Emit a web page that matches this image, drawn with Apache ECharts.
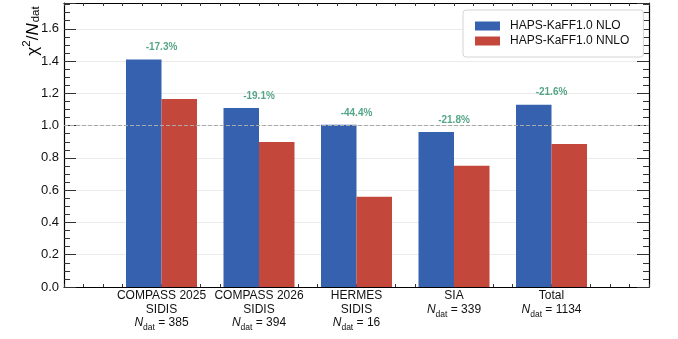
<!DOCTYPE html>
<html>
<head>
<meta charset="utf-8">
<script src="https://cdn.jsdelivr.net/npm/echarts@6/dist/echarts.min.js"></script>
<style>
  html, body { margin: 0; padding: 0; background: #fff; }
  #chart { width: 678px; height: 339px; }
</style>
</head>
<body>
<div id="chart"></div>
<script>
// Datasets (x positions 0..4) and their fit quality
const datasetNames = ['COMPASS 2025', 'COMPASS 2026', 'HERMES', 'SIA', 'Total'];
const datasetProcess = ['SIDIS', 'SIDIS', 'SIDIS', '', ''];
const nDat = [385, 394, 16, 339, 1134];
const chi2NLO = [1.41, 1.11, 1.005, 0.96, 1.13];
const chi2NNLO = [1.165, 0.898, 0.559, 0.751, 0.886];
const changeLabels = ['-17.3%', '-19.1%', '-44.4%', '-21.8%', '-21.6%'];
const seriesNames = ['HAPS-KaFF1.0 NLO', 'HAPS-KaFF1.0 NNLO'];
const yTicks = [0.0, 0.2, 0.4, 0.6, 0.8, 1.0, 1.2, 1.4, 1.6];

const FONT = '"Liberation Sans", Arial, Helvetica, sans-serif';
const BLUE = '#3561ae';
const RED = '#c4473c';
const GREEN = '#2a9068';

const xLabel = (v) => {
  const i = Math.round(v);
  if (i < 0 || i >= datasetNames.length || Math.abs(v - i) > 1e-6) return '';
  const lines = [datasetNames[i]];
  if (datasetProcess[i]) lines.push(datasetProcess[i]);
  lines.push('{n|N}{s|dat}{t| = ' + nDat[i] + '}');
  return lines.join('\n');
};

const chart = echarts.init(document.getElementById('chart'), null, { renderer: 'canvas' });

const xBase = {
  type: 'value', min: -1, max: 5, interval: 1,
  axisLine: { show: true, onZero: false, lineStyle: { color: '#000', width: 1.2 } },
  splitLine: { show: false },
  minorTick: { show: true, splitNumber: 5, length: 3, lineStyle: { color: '#333', width: 1 } },
  axisTick: { show: true, inside: true, length: 3, lineStyle: { color: '#333', width: 1 } }
};
const yBase = {
  type: 'value', min: 0, max: 1.76, interval: 0.2,
  axisLine: { show: true, onZero: false, lineStyle: { color: '#000', width: 1.2 } },
  minorTick: { show: true, splitNumber: 4, length: 6, lineStyle: { color: '#333', width: 1 } },
  axisTick: { show: true, inside: true, length: 12, lineStyle: { color: '#333', width: 1 } }
};

chart.setOption({
  animation: false,
  textStyle: { fontFamily: FONT },
  grid: { left: 64, right: 29, top: 3, bottom: 52, containLabel: false },
  legend: {
    orient: 'vertical', left: 463, top: 10,
    padding: [9, 14, 9, 12], itemGap: 1,
    itemWidth: 25, itemHeight: 9, icon: 'rect',
    borderColor: '#d4d4d4', borderWidth: 1, borderRadius: 3,
    backgroundColor: '#fff',
    textStyle: { fontFamily: FONT, fontSize: 12, color: '#111', lineHeight: 14, padding: [0, 0, 0, 5] },
    data: seriesNames
  },
  graphic: [{
    type: 'text', x: 31, y: 31, rotation: Math.PI / 2,
    style: {
      text: '{c|χ}{p|2}{c|/}{n|N}{s|dat}',
      align: 'center', verticalAlign: 'middle',
      rich: {
        c: { fontFamily: FONT, fontSize: 17, color: '#111', verticalAlign: 'bottom', lineHeight: 21 },
        p: { fontFamily: FONT, fontSize: 11.5, color: '#111', verticalAlign: 'top', lineHeight: 21 },
        n: { fontFamily: FONT, fontSize: 17, fontStyle: 'italic', color: '#111', verticalAlign: 'bottom', lineHeight: 21 },
        s: { fontFamily: FONT, fontSize: 11.5, color: '#111', verticalAlign: 'bottom', lineHeight: 18, padding: [0, 0, 0, 1] }
      }
    },
    z: 10
  }],
  xAxis: [
    Object.assign({}, xBase, {
      position: 'bottom',
      axisLabel: {
        show: true, margin: 2, fontFamily: FONT, fontSize: 12, color: '#111',
        lineHeight: 13.5, align: 'center', verticalAlign: 'top',
        showMinLabel: false, showMaxLabel: false,
        formatter: xLabel,
        rich: {
          n: { fontFamily: FONT, fontSize: 12, fontStyle: 'italic', color: '#111', lineHeight: 13.5, verticalAlign: 'middle' },
          s: { fontFamily: FONT, fontSize: 8.5, color: '#111', lineHeight: 13.5, verticalAlign: 'bottom', padding: [0, 0, -3, 0] },
          t: { fontFamily: FONT, fontSize: 12, color: '#111', lineHeight: 13.5, verticalAlign: 'middle' }
        }
      }
    }),
    Object.assign({}, xBase, { position: 'top', axisLabel: { show: false } })
  ],
  yAxis: [
    Object.assign({}, yBase, {
      position: 'left',
      splitLine: { show: true, lineStyle: { color: '#ebebeb', width: 1 } },
      axisLabel: {
        show: true, margin: 5, fontFamily: FONT, fontSize: 13, color: '#111',
        customValues: yTicks,
        formatter: (v) => v.toFixed(1)
      }
    }),
    Object.assign({}, yBase, { position: 'right', splitLine: { show: false }, axisLabel: { show: false } })
  ],
  series: [
    {
      name: seriesNames[0], type: 'bar', xAxisIndex: 0, yAxisIndex: 0,
      barWidth: 35.5, barGap: '0%',
      itemStyle: { color: BLUE },
      data: chi2NLO.map((v, i) => [i, v]),
      markLine: {
        silent: true, symbol: 'none', label: { show: false },
        lineStyle: { type: [4, 2], color: '#aaaaaa', width: 1 },
        data: [{ yAxis: 1.0 }]
      },
      z: 3
    },
    {
      name: seriesNames[1], type: 'bar', xAxisIndex: 0, yAxisIndex: 0,
      barWidth: 35.5, barGap: '0%',
      itemStyle: { color: RED },
      data: chi2NNLO.map((v, i) => [i, v]),
      z: 3
    },
    {
      name: 'change', type: 'scatter', xAxisIndex: 0, yAxisIndex: 0,
      symbolSize: 0, silent: true,
      data: chi2NLO.map((v, i) => [i, v]),
      label: {
        show: true, position: 'top', distance: 7,
        fontFamily: FONT, fontSize: 10, fontWeight: 'bold', color: GREEN,
        formatter: (p) => changeLabels[p.dataIndex]
      },
      z: 5
    }
  ]
});
</script>
</body>
</html>
